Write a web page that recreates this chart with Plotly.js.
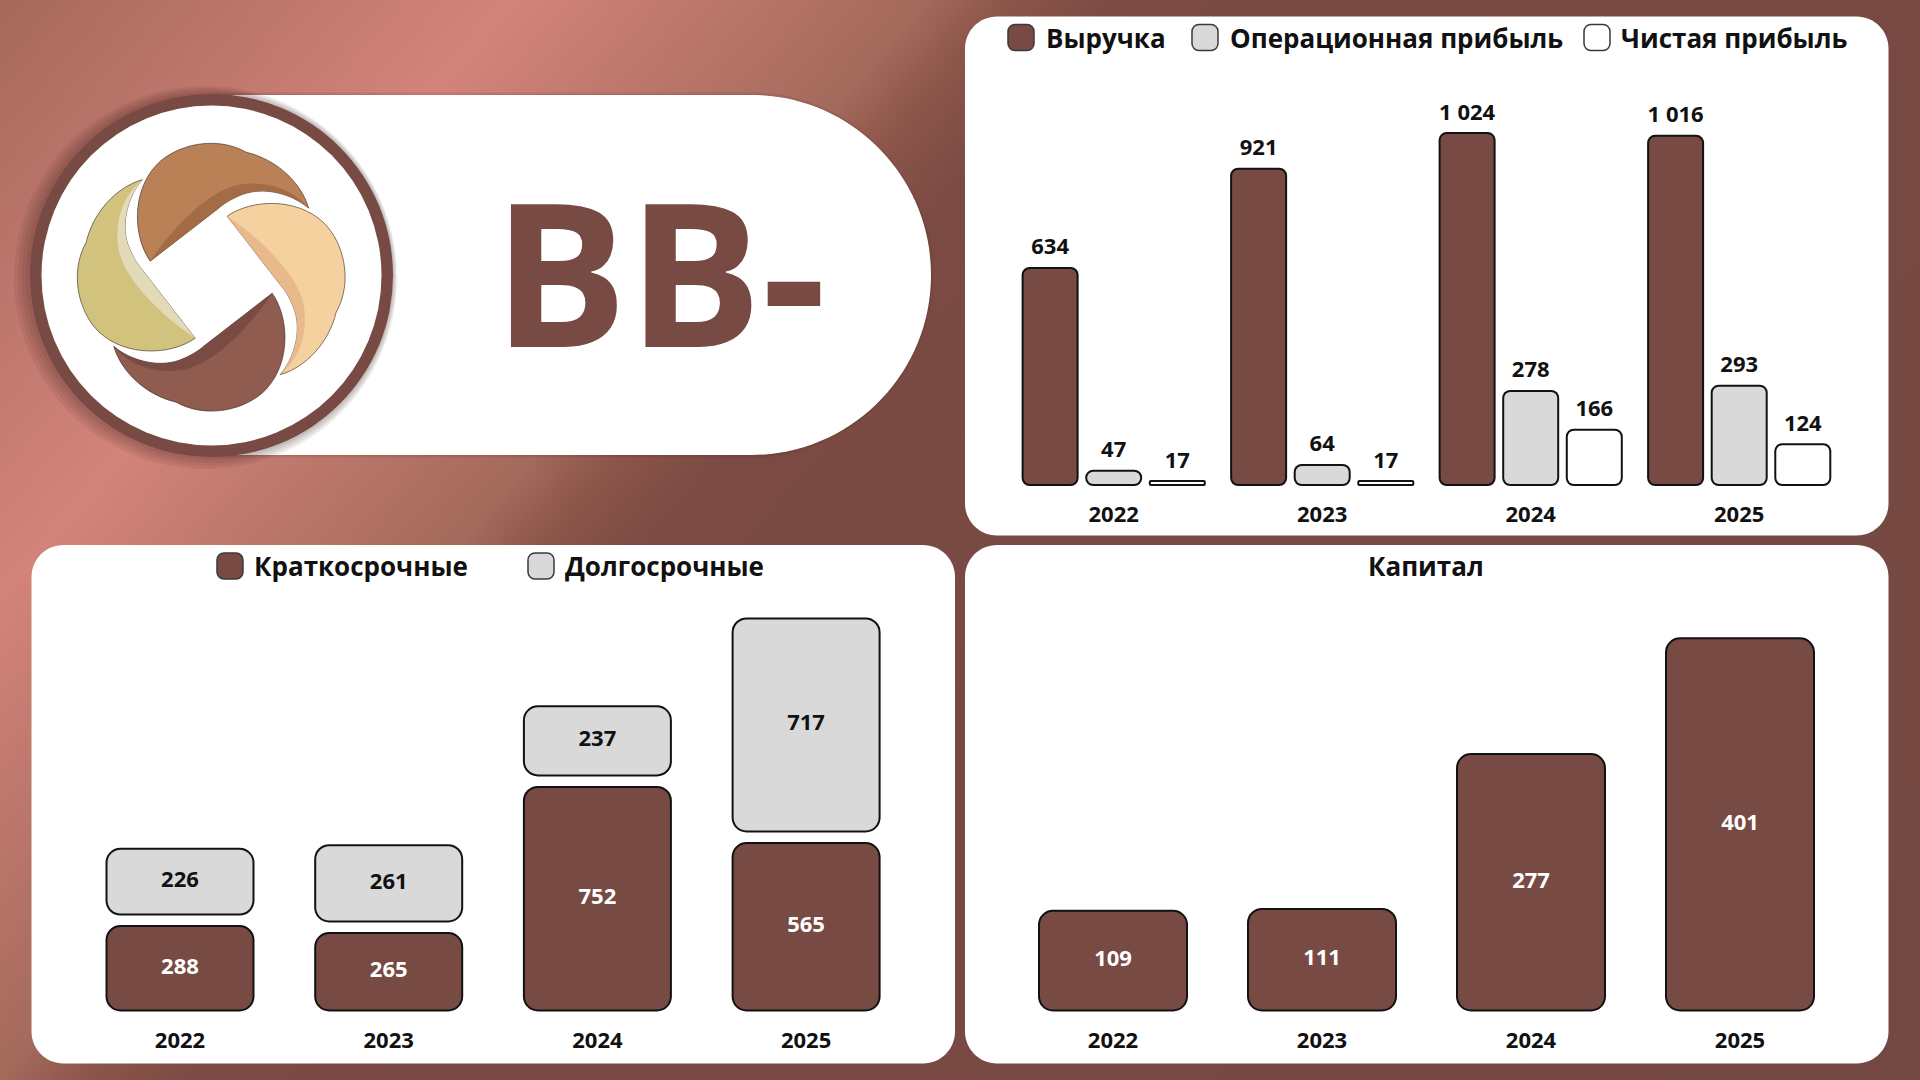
<!DOCTYPE html>
<html><head><meta charset="utf-8">
<script src="https://cdn.plot.ly/plotly-3.0.1.min.js"></script>
<style>
html,body{margin:0;padding:0;width:1920px;height:1080px;overflow:hidden;
background:linear-gradient(130.6deg,#a6695c 0%,#d3837a 18%,#a46a5c 32.5%,#8c5549 35.5%,#7a4a43 39.5%,#744842 100%);}
#chart{width:1920px;height:1080px;}
</style></head><body><div id="chart"></div>
<script>
// ---------- DATA ----------
const years = ['2022', '2023', '2024', '2025'];
const revenue = [634, 921, 1024, 1016];
const opProfit = [47, 64, 278, 293];
const netProfit = [17, 17, 166, 124];
const shortTerm = [288, 265, 752, 565];
const longTerm = [226, 261, 237, 717];
const equity = [109, 111, 277, 401];
const pnlNames = ['Выручка', 'Операционная прибыль', 'Чистая прибыль'];
const debtNames = ['Краткосрочные', 'Долгосрочные'];
const equityTitle = 'Капитал';
const rating = 'BB-';

// ---------- STYLE / LAYOUT CONSTANTS ----------
const W = 1920, H = 1080;
const BROWN = '#774a43', GREY = '#d9d9d9', WHITE = '#ffffff', INK = '#111111';
const FONT = 'Open Sans, Noto Sans, sans-serif';
const X = px => px / W, Y = py => 1 - py / H;
const P = (x, y) => X(x).toFixed(5) + ',' + Y(y).toFixed(5);

// chart geometry in pixels
const G = {
  top: {x0: 1009.45, pitch: 208.5, base: 486, scale: 0.3456, ymax: 1150, r: 8},
  bl:  {x0: 75.65,   pitch: 208.7, base: 1011.5, scale: 0.300, ymax: 1400, r: 15},
  br:  {x0: 1008.5,  pitch: 209,   base: 1011.5, scale: 0.933, ymax: 420, r: 15}
};
const PAD = 8; // px below baseline inside plot area
const OUT = 2; // outline thickness px

function fmt(v) { return String(v).replace(/\B(?=(\d{3})+(?!\d))/g, ' '); }

const traces = [];
// rounded bar (explicit base => all corners rounded) with outline drawn as a slightly larger dark bar behind
function roundedBars(ax, g, xs, bases, vals, widthU, color) {
  const xa = 'x' + ax, ya = 'y' + ax;
  const mk = (w, lo, len, col, rad) => {
    traces.push({type: 'bar', x: xs, y: len, base: lo, width: w, xaxis: xa, yaxis: ya,
      marker: {color: col, cornerradius: rad, line: {width: 0}},
      hoverinfo: 'skip', showlegend: false, textposition: 'none'});
  };
  const inset = OUT / g.scale;
  mk(widthU, bases, vals, '#121212', g.r);
  mk(widthU - 2 * OUT / g.pitch, bases.map(b => b + inset), vals.map(v => Math.max(v - 2 * inset, 0.0001)), color, g.r - OUT);
}
function labels(ax, xs, ys, texts, color) {
  traces.push({type: 'scatter', mode: 'text', x: xs, y: ys, text: texts,
    xaxis: 'x' + ax, yaxis: 'y' + ax, textposition: 'middle center', cliponaxis: false,
    textfont: {family: FONT, size: 22, weight: 700, color: color},
    hoverinfo: 'skip', showlegend: false});
}

// --- top chart: grouped P&L ---
const offsets = [-0.305, 0, 0.305];
const pnlSeries = [revenue, opProfit, netProfit];
const pnlColors = [BROWN, GREY, WHITE];
pnlSeries.forEach((s, j) => {
  const xs = years.map((_, i) => i + offsets[j]);
  roundedBars('', G.top, xs, s.map(() => 0), s, 57 / G.top.pitch, pnlColors[j]);
});
pnlSeries.forEach((s, j) => {
  const xs = years.map((_, i) => i + offsets[j]);
  labels('', xs, s.map(v => v + 18 / G.top.scale), s.map(fmt), INK);
});

// --- bottom-left: stacked debt ---
const gapU = 9.5 / G.bl.scale;
const idx = years.map((_, i) => i);
roundedBars('2', G.bl, idx, shortTerm.map(() => 0), shortTerm, 149 / G.bl.pitch, BROWN);
const ltBase = shortTerm.map(v => v + gapU);
roundedBars('2', G.bl, idx, ltBase, longTerm, 149 / G.bl.pitch, GREY);
labels('2', idx, shortTerm.map(v => v / 2), shortTerm.map(fmt), WHITE);
labels('2', idx, longTerm.map((v, i) => ltBase[i] + v / 2), longTerm.map(fmt), INK);

// --- bottom-right: equity ---
roundedBars('3', G.br, idx, equity.map(() => 0), equity, 150 / G.br.pitch, BROWN);
labels('3', idx, equity.map(v => v / 2), equity.map(fmt), WHITE);

// ---------- AXES ----------
function axes(g, standoff) {
  const xa = {domain: [X(g.x0), X(g.x0 + 4 * g.pitch)], range: [-0.5, 3.5],
    tickvals: idx, ticktext: years, showgrid: false, zeroline: false, showline: false,
    ticks: '', ticklabelstandoff: standoff, fixedrange: true,
    tickfont: {family: FONT, size: 22, weight: 700, color: INK}};
  const ya = {domain: [Y(g.base + PAD), Y(g.base - g.ymax * g.scale)],
    range: [-PAD / g.scale, g.ymax], visible: false, fixedrange: true};
  return [xa, ya];
}
const [xa1, ya1] = axes(G.top, 5);
const [xa2, ya2] = axes(G.bl, 5);
const [xa3, ya3] = axes(G.br, 5);
xa1.anchor = 'y'; ya1.anchor = 'x';
xa2.anchor = 'y2'; ya2.anchor = 'x2';
xa3.anchor = 'y3'; ya3.anchor = 'x3';

// ---------- SHAPES ----------
const shapes = [];
function roundRectPath(x0, y0, x1, y1, r) {
  const k = 0.5523 * r;
  return 'M' + P(x0 + r, y0) + ' L' + P(x1 - r, y0) + ' C' + P(x1 - r + k, y0) + ' ' + P(x1, y0 + r - k) + ' ' + P(x1, y0 + r) +
    ' L' + P(x1, y1 - r) + ' C' + P(x1, y1 - r + k) + ' ' + P(x1 - r + k, y1) + ' ' + P(x1 - r, y1) +
    ' L' + P(x0 + r, y1) + ' C' + P(x0 + r - k, y1) + ' ' + P(x0, y1 - r + k) + ' ' + P(x0, y1 - r) +
    ' L' + P(x0, y0 + r) + ' C' + P(x0, y0 + r - k) + ' ' + P(x0 + r - k, y0) + ' ' + P(x0 + r, y0) + ' Z';
}
function pathShape(path, fill, lineColor, lineWidth) {
  shapes.push({type: 'path', xref: 'paper', yref: 'paper', layer: 'below', path: path,
    fillcolor: fill, line: {color: lineColor || 'rgba(0,0,0,0)', width: lineWidth || 0}});
}
function circleShape(cx, cy, r, fill) {
  shapes.push({type: 'circle', xref: 'paper', yref: 'paper', layer: 'below',
    x0: X(cx - r), x1: X(cx + r), y0: Y(cy + r), y1: Y(cy - r), fillcolor: fill, line: {width: 0}});
}
// panels
pathShape(roundRectPath(965, 16.5, 1888.5, 535.5, 32), WHITE);
pathShape(roundRectPath(31.5, 545, 955, 1063.5, 32), WHITE);
pathShape(roundRectPath(965, 545, 1888.5, 1063.5, 32), WHITE);

// pill
(function () {
  const y0 = 95, y1 = 455, xr = 751, r = 180, k = 0.5523 * r;
  for (let s = 3; s >= 1; s--) {
    const d = s * 2.5;
    pathShape('M' + P(212, y0 - d * 0.4) + ' L' + P(xr, y0 - d * 0.4) + ' C' + P(xr + k, y0 - d * 0.4) + ' ' + P(xr + r + d * 0.3, 275 - k) + ' ' + P(xr + r + d * 0.3, 275) +
      ' C' + P(xr + r + d * 0.3, 275 + k) + ' ' + P(xr + k, y1 + d * 0.4) + ' ' + P(xr, y1 + d * 0.4) + ' L' + P(212, y1 + d * 0.4) + ' Z', 'rgba(60,30,25,0.05)');
  }
  pathShape('M' + P(212, y0) + ' L' + P(xr, y0) + ' C' + P(xr + k, y0) + ' ' + P(xr + r, 275 - k) + ' ' + P(xr + r, 275) +
    ' C' + P(xr + r, 275 + k) + ' ' + P(xr + k, y1) + ' ' + P(xr, y1) + ' L' + P(212, y1) + ' Z', WHITE);
})();
// logo circle with shadow
const LC = [211.5, 275.5];
for (let s = 4; s >= 1; s--) circleShape(LC[0] - 1.5 * s, LC[1] + 0.5 * s, 181.5 + 2.5 * s, 'rgba(55,28,24,0.08)');
circleShape(LC[0], LC[1], 181.5, BROWN);
circleShape(LC[0], LC[1], 170, WHITE);

// logo petals (one petal shape rotated 4 times)
const C0 = [211.2, 277.2];
const petalMain = [['M', [-61, -16]], ['C', [-78, -40], [-80, -85], [-55, -112]], ['C', [-35, -133], [5, -142], [35, -125]],
  ['C', [65, -118], [90, -95], [97.5, -69]], ['C', [80, -84], [50, -92], [27, -81]], ['C', [18, -77], [12, -73], [7.5, -69]], ['Z']];
const petalBand = [['M', [97.5, -69]], ['C', [82, -88], [55, -98], [25, -92]], ['C', [-5, -84], [-38, -50], [-61, -16]],
  ['L', [7.5, -69]], ['C', [12, -73], [18, -77], [27, -81]], ['C', [50, -92], [80, -84], [97.5, -69]], ['Z']];
function rot(p, k) { let [x, y] = p; for (let i = 0; i < k; i++) { [x, y] = [-y, x]; } return [x, y]; }
function petalPath(def, k) {
  return def.map(seg => seg[0] + (seg.length > 1 ? ' ' + seg.slice(1).map(pt => { const q = rot(pt, k); return P(C0[0] + q[0], C0[1] + q[1]); }).join(' ') : '')).join(' ');
}
const petalColors = [['#b98155', '#a46b47'], ['#f5d19f', '#e8b98b'], ['#8f5c4f', '#7a4b43'], ['#d1c37e', '#e3dab8']];
[3, 2, 1, 0].forEach(k => {
  pathShape(petalPath(petalMain, k), petalColors[k][0], 'rgba(50,35,25,0.75)', 0.8);
  pathShape(petalPath(petalBand, k), petalColors[k][1]);
});

// legend icons and texts
function icon(x0, y0, fill) { pathShape(roundRectPath(x0, y0, x0 + 26, y0 + 26, 7), fill, '#3a3a3a', 1.5); }
const annotations = [];
function text(x, y, t, size, xanchor, color) {
  annotations.push({xref: 'paper', yref: 'paper', x: X(x), y: Y(y), text: t, showarrow: false,
    xanchor: xanchor, yanchor: 'middle', font: {family: FONT, size: size, weight: 700, color: color || INK}});
}
const topIconX = [1008, 1192, 1584], topTextX = [1044, 1227.5, 1619];
pnlNames.forEach((n, j) => { icon(topIconX[j], 24.5, pnlColors[j]); text(topTextX[j], 38, n, 26, 'left'); });
const blIconX = [217, 528], blTextX = [252, 562.5];
debtNames.forEach((n, j) => { icon(blIconX[j], 553, [BROWN, GREY][j]); text(blTextX[j], 566, n, 26, 'left'); });
text(1426, 566, equityTitle, 26, 'center');
text(659.5, 269, rating, 200, 'center', BROWN);

const layout = {
  width: W, height: H, margin: {l: 0, r: 0, t: 0, b: 0}, autosize: false,
  paper_bgcolor: 'rgba(0,0,0,0)', plot_bgcolor: 'rgba(0,0,0,0)',
  barmode: 'overlay', showlegend: false, hovermode: false,
  xaxis: xa1, yaxis: ya1, xaxis2: xa2, yaxis2: ya2, xaxis3: xa3, yaxis3: ya3,
  shapes: shapes, annotations: annotations,
  font: {family: FONT}
};
Plotly.newPlot('chart', traces, layout, {staticPlot: true, displayModeBar: false});
</script></body></html>
